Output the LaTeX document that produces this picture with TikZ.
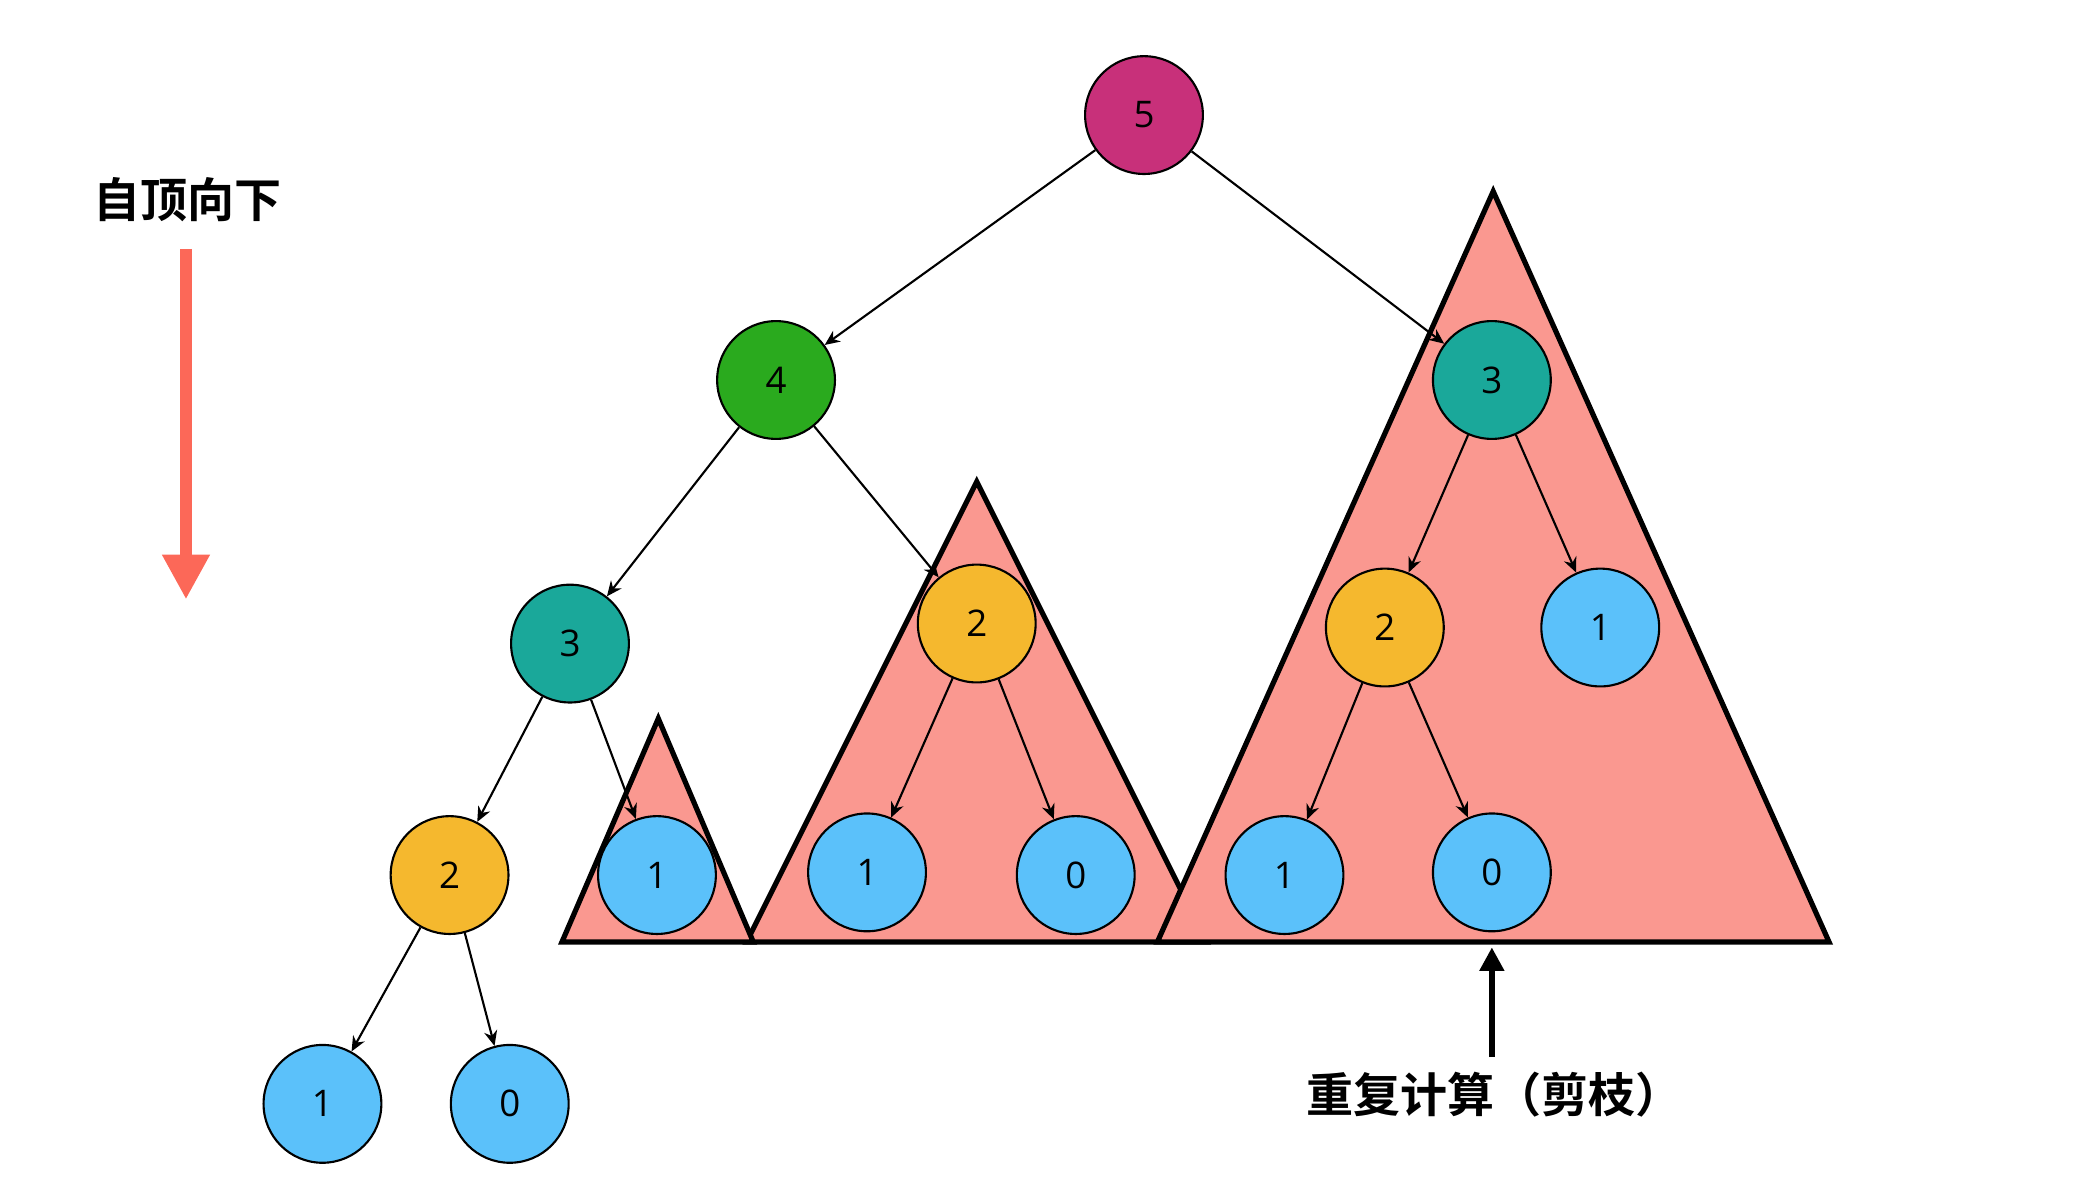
\documentclass[tikz,border=0pt]{standalone}
\usepackage{fontspec}
\setmainfont{Open Sans}
\newfontfamily\cjk{Noto Sans CJK SC}[BoldFont={* Bold}]
\usepackage{tikz}
\usetikzlibrary{arrows.meta,positioning}

\definecolor{Magenta}{RGB}{200,48,122}
\definecolor{Green}{RGB}{42,170,30}
\definecolor{Teal}{RGB}{26,168,154}
\definecolor{Yellow}{RGB}{245,184,46}
\definecolor{Blue}{RGB}{91,193,250}
\definecolor{Salmon}{RGB}{250,152,144}
\definecolor{Coral}{RGB}{252,104,88}

\begin{document}
\begin{tikzpicture}[x=0.01cm, y=-0.01cm]
			\tikzstyle{Vertex}	= [circle, draw, line width=0.45pt, minimum size=8.8mm, inner sep=0pt, font=\fontsize{7.8}{9}\selectfont]
			\tikzstyle{N5}		= [fill = Magenta]
			\tikzstyle{N4}		= [fill = Green]
			\tikzstyle{N3}		= [fill = Teal]
			\tikzstyle{N2}		= [fill = Yellow]
			\tikzstyle{N1}		= [fill = Blue]
			\tikzstyle{Edge}	= [line width=0.45pt, -{Stealth[length=3.2pt,width=2.8pt]}]
			\tikzstyle{Pruned}	= [fill = Salmon, draw, line width=1.1pt, line join=miter]
			\tikzstyle{Caption}	= [font=\cjk\bfseries\fontsize{10}{12}\selectfont]

			\useasboundingbox (0,0) rectangle (1568,895.3);

			% pruned subtrees
			\draw [Pruned] (730,360) -- (902,704) -- (558,704) -- cycle;
			\draw [Pruned] (492,537) -- (563,704) -- (420,704) -- cycle;
			\draw [Pruned] (1116,143) -- (1367,704) -- (865,704) -- cycle;

			\node (v0) at (855,86) [Vertex][N5] {5};
			\node (v1) at (580,284) [Vertex][N4] {4};
			\node (v2) at (1115,284) [Vertex][N3] {3};
			\node (v3) at (426,481) [Vertex][N3] {3};
			\node (v4) at (730,466) [Vertex][N2] {2};
			\node (v5) at (1035,469) [Vertex][N2] {2};
			\node (v6) at (1196,469) [Vertex][N1] {1};
			\node (v7) at (336,654) [Vertex][N2] {2};
			\node (v8) at (491,654) [Vertex][N1] {1};
			\node (v9) at (648,652) [Vertex][N1] {1};
			\node (v10) at (804,654) [Vertex][N1] {0};
			\node (v11) at (960,654) [Vertex][N1] {1};
			\node (v12) at (1115,652) [Vertex][N1] {0};
			\node (v13) at (241,825) [Vertex][N1] {1};
			\node (v14) at (381,825) [Vertex][N1] {0};

			\draw (v0) to (v1) [Edge];
			\draw (v0) to (v2) [Edge];
			\draw (v1) to (v3) [Edge];
			\draw (v1) to (v4) [Edge];
			\draw (v3) to (v7) [Edge];
			\draw (v3) to (v8) [Edge];
			\draw (v7) to (v13) [Edge];
			\draw (v7) to (v14) [Edge];
			\draw (v4) to (v9) [Edge];
			\draw (v4) to (v10) [Edge];
			\draw (v2) to (v5) [Edge];
			\draw (v2) to (v6) [Edge];
			\draw (v5) to (v11) [Edge];
			\draw (v5) to (v12) [Edge];

			% direction and pruning notes
			\node (top) at (140,149) [Caption] {自顶向下};
			\coordinate (down0) at (139,186);
			\coordinate (down1) at (139,448);
			\draw [line width=2.5pt, Coral, -{Triangle[length=9.5pt,width=9.5pt]}] (down0) -- (down1);
			\node (prune) at (1117,818) [Caption] {重复计算（剪枝）};
			\coordinate (up0) at (1115,790);
			\coordinate (up1) at (1115,708);
			\draw [line width=1.3pt, -{Triangle[length=5pt,width=5pt]}] (up0) -- (up1);
		\end{tikzpicture}
\end{document}
